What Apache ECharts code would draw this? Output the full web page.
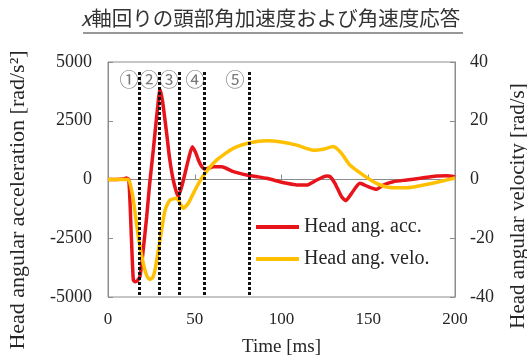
<!DOCTYPE html>
<html><head><meta charset="utf-8">
<script src="https://cdn.jsdelivr.net/npm/echarts@6/dist/echarts.min.js"></script>
<style>html,body{margin:0;padding:0;background:#fff}#c{width:527px;height:362px}</style>
</head><body><div id="c"></div>
<script>
// Time axis (ms) and values
var accTime = [0,5,9,10.5,12,13.5,14.6,15.6,17,18.4,20,22.3,24,26.1,28.5,30,31.5,33.8,35.5,37.6,40.5,42.5,44.4,46.5,48.6,50.5,52.1,54,55.9,58,60.8,65.5,72.3,79.9,86,91.4,99,103,108.8,114.5,120.3,126,128,130.8,134.6,137,140.4,145.2,150,154.8,158.7,164.4,172.2,179.8,189.4,195,200];
var accValue = [0,0,20,60,0,-2500,-4277,-4350,-4300,-4135,-3200,-1580,-200,1255,3000,3838,3300,1966,900,-21,-732,-300,264,900,1396,1150,830,550,434,480,545,545,332,191,120,51,-94,-162,-234,-234,-21,149,120,-162,-732,-902,-587,-162,-306,-417,-234,-94,-21,51,149,160,119];
var veloTime = [0,11.7,13,14.6,17.5,20.3,22.5,24.2,25.8,27.1,30,32.9,35.7,39.6,41.5,43.4,46.3,51.1,55.9,62.6,72.2,81.8,91.4,100,108.8,118.3,124.1,129.8,134.6,139.4,147.1,154.8,162.5,172.2,181.8,191.4,200];
var veloValue = [0,0,-2,-7,-19.5,-28.5,-33,-34,-33.3,-30.8,-20.6,-10.4,-7,-6.4,-8,-9.8,-8.1,-2.5,2.1,6.6,10.6,12.5,13.2,12.8,11.7,10,10.3,11.2,8.9,4.9,1.5,-1.3,-2.7,-2.8,-1.9,-0.7,0.5];
var phaseTimes = [18, 29.5, 41, 55.5, 81.5];
var phaseLabelTimes = [12.1, 23.6, 35.2, 50.1, 73.2];
var phaseLabels = ['①','②','③','④','⑤'];
var xTicks = [0, 50, 100, 150, 200];
var accTicks = [-5000, -2500, 0, 2500, 5000];
var veloTicks = [-40, -20, 0, 20, 40];
var seriesNames = ['Head ang. acc.', 'Head ang. velo.'];
var titleText = '軸回りの頭部角加速度および角速度応答';

function zip(a, b) { return a.map(function (v, i) { return [v, b[i]]; }); }
var serif = 'Liberation Serif';
var txt = '#262626';
var chart = echarts.init(document.getElementById('c'));
chart.setOption({
  animation: false,
  backgroundColor: '#fff',
  title: {
    text: '{i|x}{n|' + titleText + '}',
    left: 81, top: 8, padding: 0,
    textStyle: {
      rich: {
        i: { fontFamily: 'Noto Sans CJK JP', fontStyle: 'italic', fontWeight: 'normal', fontSize: 20.5, color: '#333' },
        n: { fontFamily: 'Noto Sans CJK JP', fontWeight: 'normal', fontSize: 20.5, color: '#333' }
      }
    }
  },
  grid: { left: 108, top: 62, right: 72, bottom: 65, show: true, borderColor: '#8c8c8c', borderWidth: 1 },
  legend: {
    orient: 'vertical', left: 256, top: 217, padding: 0, itemGap: 12,
    itemWidth: 43, itemHeight: 4,
    textStyle: { fontFamily: serif, fontSize: 20, color: txt },
    data: [{ name: seriesNames[0], icon: 'rect' }, { name: seriesNames[1], icon: 'rect' }]
  },
  xAxis: {
    type: 'value', min: xTicks[0], max: xTicks[xTicks.length - 1], interval: 50,
    axisLine: { show: true, lineStyle: { color: '#8c8c8c' } },
    axisTick: { show: true, inside: true, length: 5, lineStyle: { color: '#8c8c8c' } },
    splitLine: { show: false },
    axisLabel: { margin: 14, fontFamily: serif, fontSize: 17, color: txt },
    name: 'Time [ms]', nameLocation: 'middle', nameGap: 41,
    nameTextStyle: { fontFamily: serif, fontSize: 19, color: txt }
  },
  yAxis: [{
    type: 'value', min: accTicks[0], max: accTicks[accTicks.length - 1], interval: 2500,
    axisLine: { show: true, lineStyle: { color: '#8c8c8c' } },
    axisTick: { show: true, inside: true, length: 5, lineStyle: { color: '#8c8c8c' } },
    splitLine: { show: false },
    axisLabel: { margin: 16, fontFamily: serif, fontSize: 18, color: txt, formatter: function (v) { return String(v); } }
  }, {
    type: 'value', min: veloTicks[0], max: veloTicks[veloTicks.length - 1], interval: 20,
    axisLine: { show: true, lineStyle: { color: '#8c8c8c' } },
    axisTick: { show: true, inside: true, length: 5, lineStyle: { color: '#8c8c8c' } },
    splitLine: { show: false },
    axisLabel: { margin: 15, fontFamily: serif, fontSize: 18, color: txt, formatter: function (v) { return String(v); } }
  }],
  graphic: [
    { type: 'line', shape: { x1: 83, y1: 33, x2: 463, y2: 33 }, style: { stroke: '#333', lineWidth: 1.2 } },
    { type: 'text', x: 18, y: 200, rotation: Math.PI / 2,
      style: { text: 'Head angular acceleration [rad/s²]', fontFamily: serif, fontSize: 22, fill: txt, textAlign: 'center', textVerticalAlign: 'middle' } },
    { type: 'text', x: 518, y: 206, rotation: Math.PI / 2,
      style: { text: 'Head angular velocity [rad/s]', fontFamily: serif, fontSize: 21, fill: txt, textAlign: 'center', textVerticalAlign: 'middle' } }
  ],
  series: [{
    name: seriesNames[0], type: 'line', yAxisIndex: 0, data: zip(accTime, accValue),
    smooth: 0.2, showSymbol: false, z: 3,
    lineStyle: { color: '#e8141b', width: 3.5 }, itemStyle: { color: '#e8141b' },
    markLine: {
      silent: true, symbol: 'none', label: { show: false },
      lineStyle: { color: '#111', type: [3, 2], width: 3 },
      data: phaseTimes.map(function (t) { return [{ coord: [t, 4570] }, { coord: [t, -5000] }]; })
    }
  }, {
    name: seriesNames[1], type: 'line', yAxisIndex: 1, data: zip(veloTime, veloValue),
    smooth: 0.2, showSymbol: false, z: 4,
    lineStyle: { color: '#ffc000', width: 3.5 }, itemStyle: { color: '#ffc000' }
  }, {
    name: 'phase', type: 'scatter', yAxisIndex: 0, symbolSize: 0, silent: true,
    data: phaseLabelTimes.map(function (t, i) { return { value: [t, 4230], label: { formatter: phaseLabels[i] } }; }),
    label: { show: true, position: 'inside', fontFamily: 'Noto Sans CJK JP', fontSize: 19, color: '#555' }
  }]
});
</script></body></html>
